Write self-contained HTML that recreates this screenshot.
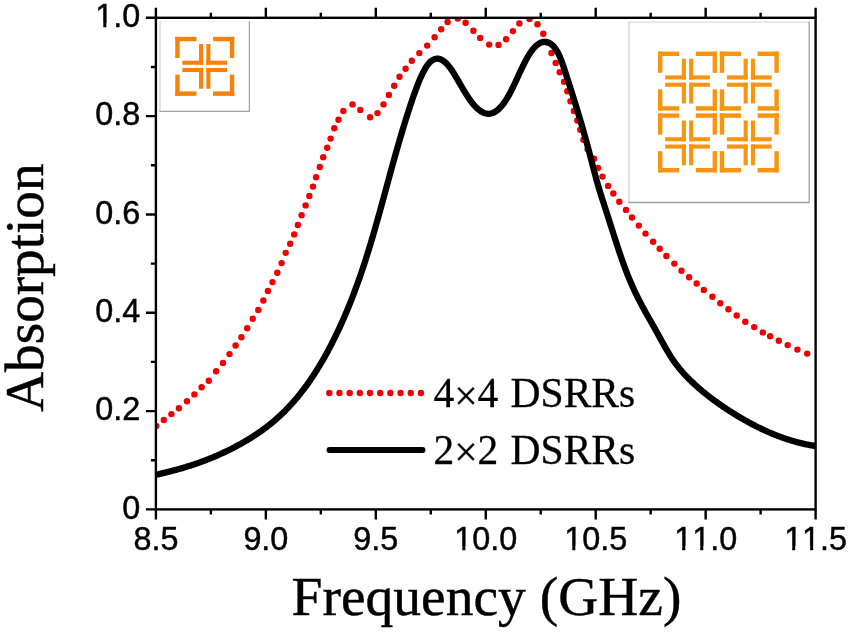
<!DOCTYPE html>
<html><head><meta charset="utf-8"><style>
html,body{margin:0;padding:0;background:#fff;}
svg{display:block;will-change:transform;}
.sans{font-family:"Liberation Sans",sans-serif;font-kerning:none;}
.serif{font-family:"Liberation Serif",serif;}
</style></head><body>
<svg width="850" height="633" viewBox="0 0 850 633">
<rect width="850" height="633" fill="#fff"/>
<!-- insets -->
<path d="M160 21.8 H249.4" stroke="#f1f1f1" stroke-width="1.2"/><path d="M160 21.3 V112" stroke="#d6d6d6" stroke-width="1.4"/><path d="M249.4 21.3 V112 M159.4 111.4 H250" stroke="#a2a2a2" stroke-width="1.3"/>
<g fill="#f8810c"><rect x="175.25" y="36.85" width="21.20" height="4.40"/><rect x="175.25" y="36.85" width="4.40" height="21.20"/><rect x="199.05" y="43.95" width="4.10" height="20.80"/><rect x="182.35" y="60.65" width="20.80" height="4.10"/><rect x="175.25" y="91.45" width="21.20" height="4.40"/><rect x="175.25" y="74.65" width="4.40" height="21.20"/><rect x="199.05" y="67.95" width="4.10" height="20.80"/><rect x="182.35" y="67.95" width="20.80" height="4.10"/><rect x="213.05" y="36.85" width="21.20" height="4.40"/><rect x="229.85" y="36.85" width="4.40" height="21.20"/><rect x="206.35" y="43.95" width="4.10" height="20.80"/><rect x="206.35" y="60.65" width="20.80" height="4.10"/><rect x="213.05" y="91.45" width="21.20" height="4.40"/><rect x="229.85" y="74.65" width="4.40" height="21.20"/><rect x="206.35" y="67.95" width="4.10" height="20.80"/><rect x="206.35" y="67.95" width="20.80" height="4.10"/></g>
<path d="M628.9 22.2 H809.2" stroke="#dedede" stroke-width="1.2"/><path d="M628.9 21.6 V203.1" stroke="#d6d6d6" stroke-width="1.4"/><path d="M809.2 21.6 V203.1 M628.3 202.5 H809.8" stroke="#a0a0a0" stroke-width="1.3"/>
<g fill="#f9940e"><rect x="658.00" y="51.60" width="21.20" height="4.40"/><rect x="658.00" y="51.60" width="4.40" height="21.20"/><rect x="681.80" y="58.70" width="4.10" height="20.80"/><rect x="665.10" y="75.40" width="20.80" height="4.10"/><rect x="658.00" y="106.20" width="21.20" height="4.40"/><rect x="658.00" y="89.40" width="4.40" height="21.20"/><rect x="681.80" y="82.70" width="4.10" height="20.80"/><rect x="665.10" y="82.70" width="20.80" height="4.10"/><rect x="695.80" y="51.60" width="21.20" height="4.40"/><rect x="712.60" y="51.60" width="4.40" height="21.20"/><rect x="689.10" y="58.70" width="4.10" height="20.80"/><rect x="689.10" y="75.40" width="20.80" height="4.10"/><rect x="695.80" y="106.20" width="21.20" height="4.40"/><rect x="712.60" y="89.40" width="4.40" height="21.20"/><rect x="689.10" y="82.70" width="4.10" height="20.80"/><rect x="689.10" y="82.70" width="20.80" height="4.10"/><rect x="658.00" y="113.40" width="21.20" height="4.40"/><rect x="658.00" y="113.40" width="4.40" height="21.20"/><rect x="681.80" y="120.50" width="4.10" height="20.80"/><rect x="665.10" y="137.20" width="20.80" height="4.10"/><rect x="658.00" y="168.00" width="21.20" height="4.40"/><rect x="658.00" y="151.20" width="4.40" height="21.20"/><rect x="681.80" y="144.50" width="4.10" height="20.80"/><rect x="665.10" y="144.50" width="20.80" height="4.10"/><rect x="695.80" y="113.40" width="21.20" height="4.40"/><rect x="712.60" y="113.40" width="4.40" height="21.20"/><rect x="689.10" y="120.50" width="4.10" height="20.80"/><rect x="689.10" y="137.20" width="20.80" height="4.10"/><rect x="695.80" y="168.00" width="21.20" height="4.40"/><rect x="712.60" y="151.20" width="4.40" height="21.20"/><rect x="689.10" y="144.50" width="4.10" height="20.80"/><rect x="689.10" y="144.50" width="20.80" height="4.10"/><rect x="719.80" y="51.60" width="21.20" height="4.40"/><rect x="719.80" y="51.60" width="4.40" height="21.20"/><rect x="743.60" y="58.70" width="4.10" height="20.80"/><rect x="726.90" y="75.40" width="20.80" height="4.10"/><rect x="719.80" y="106.20" width="21.20" height="4.40"/><rect x="719.80" y="89.40" width="4.40" height="21.20"/><rect x="743.60" y="82.70" width="4.10" height="20.80"/><rect x="726.90" y="82.70" width="20.80" height="4.10"/><rect x="757.60" y="51.60" width="21.20" height="4.40"/><rect x="774.40" y="51.60" width="4.40" height="21.20"/><rect x="750.90" y="58.70" width="4.10" height="20.80"/><rect x="750.90" y="75.40" width="20.80" height="4.10"/><rect x="757.60" y="106.20" width="21.20" height="4.40"/><rect x="774.40" y="89.40" width="4.40" height="21.20"/><rect x="750.90" y="82.70" width="4.10" height="20.80"/><rect x="750.90" y="82.70" width="20.80" height="4.10"/><rect x="719.80" y="113.40" width="21.20" height="4.40"/><rect x="719.80" y="113.40" width="4.40" height="21.20"/><rect x="743.60" y="120.50" width="4.10" height="20.80"/><rect x="726.90" y="137.20" width="20.80" height="4.10"/><rect x="719.80" y="168.00" width="21.20" height="4.40"/><rect x="719.80" y="151.20" width="4.40" height="21.20"/><rect x="743.60" y="144.50" width="4.10" height="20.80"/><rect x="726.90" y="144.50" width="20.80" height="4.10"/><rect x="757.60" y="113.40" width="21.20" height="4.40"/><rect x="774.40" y="113.40" width="4.40" height="21.20"/><rect x="750.90" y="120.50" width="4.10" height="20.80"/><rect x="750.90" y="137.20" width="20.80" height="4.10"/><rect x="757.60" y="168.00" width="21.20" height="4.40"/><rect x="774.40" y="151.20" width="4.40" height="21.20"/><rect x="750.90" y="144.50" width="4.10" height="20.80"/><rect x="750.90" y="144.50" width="20.80" height="4.10"/></g>
<!-- curves -->
<defs><clipPath id="pc"><rect x="155.9" y="17.8" width="659.70" height="491.60"/></clipPath></defs>
<g clip-path="url(#pc)">
<g fill="#f00000"><circle cx="156.2" cy="426.0" r="3.2"/><circle cx="163.8" cy="420.0" r="3.2"/><circle cx="171.4" cy="414.1" r="3.2"/><circle cx="178.9" cy="408.2" r="3.2"/><circle cx="187.0" cy="401.2" r="3.2"/><circle cx="194.4" cy="394.4" r="3.2"/><circle cx="201.6" cy="387.2" r="3.2"/><circle cx="208.8" cy="380.7" r="3.2"/><circle cx="216.1" cy="371.3" r="3.2"/><circle cx="223.0" cy="362.9" r="3.2"/><circle cx="229.5" cy="354.1" r="3.2"/><circle cx="235.6" cy="345.5" r="3.2"/><circle cx="241.4" cy="337.2" r="3.2"/><circle cx="247.2" cy="328.3" r="3.2"/><circle cx="252.8" cy="318.7" r="3.2"/><circle cx="258.3" cy="309.9" r="3.2"/><circle cx="263.4" cy="300.5" r="3.2"/><circle cx="267.9" cy="290.9" r="3.2"/><circle cx="272.5" cy="282.1" r="3.2"/><circle cx="277.3" cy="272.7" r="3.2"/><circle cx="281.6" cy="263.1" r="3.2"/><circle cx="285.7" cy="252.9" r="3.2"/><circle cx="290.2" cy="243.8" r="3.2"/><circle cx="294.2" cy="234.4" r="3.2"/><circle cx="297.9" cy="225.0" r="3.2"/><circle cx="301.6" cy="215.3" r="3.2"/><circle cx="305.6" cy="205.4" r="3.2"/><circle cx="309.3" cy="196.0" r="3.2"/><circle cx="313.0" cy="186.6" r="3.2"/><circle cx="316.1" cy="177.2" r="3.2"/><circle cx="319.8" cy="167.0" r="3.2"/><circle cx="323.2" cy="157.3" r="3.2"/><circle cx="327.2" cy="147.7" r="3.2"/><circle cx="330.6" cy="138.6" r="3.2"/><circle cx="334.3" cy="128.3" r="3.2"/><circle cx="338.5" cy="119.7" r="3.2"/><circle cx="343.4" cy="111.0" r="3.2"/><circle cx="352.5" cy="104.4" r="3.2"/><circle cx="360.3" cy="109.9" r="3.2"/><circle cx="370.1" cy="117.2" r="3.2"/><circle cx="377.5" cy="113.1" r="3.2"/><circle cx="383.5" cy="104.4" r="3.2"/><circle cx="388.9" cy="94.9" r="3.2"/><circle cx="394.2" cy="85.8" r="3.2"/><circle cx="399.5" cy="76.7" r="3.2"/><circle cx="405.6" cy="68.8" r="3.2"/><circle cx="411.8" cy="60.8" r="3.2"/><circle cx="419.3" cy="53.1" r="3.2"/><circle cx="427.2" cy="45.6" r="3.2"/><circle cx="434.6" cy="37.3" r="3.2"/><circle cx="441.2" cy="29.2" r="3.2"/><circle cx="447.6" cy="22.0" r="3.2"/><circle cx="457.8" cy="18.5" r="3.2"/><circle cx="465.6" cy="22.8" r="3.2"/><circle cx="473.4" cy="30.8" r="3.2"/><circle cx="480.2" cy="37.9" r="3.2"/><circle cx="489.2" cy="44.6" r="3.2"/><circle cx="498.5" cy="44.9" r="3.2"/><circle cx="506.1" cy="39.3" r="3.2"/><circle cx="512.9" cy="31.1" r="3.2"/><circle cx="519.4" cy="23.4" r="3.2"/><circle cx="529.5" cy="19.1" r="3.2"/><circle cx="537.5" cy="24.3" r="3.2"/><circle cx="543.3" cy="33.8" r="3.2"/><circle cx="547.6" cy="42.4" r="3.2"/><circle cx="551.5" cy="53.0" r="3.2"/><circle cx="555.7" cy="62.9" r="3.2"/><circle cx="559.7" cy="72.2" r="3.2"/><circle cx="564.1" cy="81.8" r="3.2"/><circle cx="567.3" cy="91.3" r="3.2"/><circle cx="570.5" cy="101.3" r="3.2"/><circle cx="573.9" cy="111.0" r="3.2"/><circle cx="577.3" cy="120.5" r="3.2"/><circle cx="580.3" cy="129.8" r="3.2"/><circle cx="583.4" cy="139.8" r="3.2"/><circle cx="587.6" cy="149.3" r="3.2"/><circle cx="594.0" cy="158.8" r="3.2"/><circle cx="598.0" cy="168.0" r="3.2"/><circle cx="602.5" cy="176.6" r="3.2"/><circle cx="608.1" cy="185.9" r="3.2"/><circle cx="613.3" cy="193.5" r="3.2"/><circle cx="619.3" cy="201.8" r="3.2"/><circle cx="626.0" cy="209.9" r="3.2"/><circle cx="632.0" cy="217.5" r="3.2"/><circle cx="638.8" cy="225.6" r="3.2"/><circle cx="645.5" cy="233.6" r="3.2"/><circle cx="653.1" cy="241.8" r="3.2"/><circle cx="659.7" cy="248.8" r="3.2"/><circle cx="666.4" cy="256.0" r="3.2"/><circle cx="674.3" cy="263.6" r="3.2"/><circle cx="681.5" cy="270.8" r="3.2"/><circle cx="689.1" cy="277.3" r="3.2"/><circle cx="696.7" cy="283.5" r="3.2"/><circle cx="703.8" cy="289.9" r="3.2"/><circle cx="712.4" cy="296.8" r="3.2"/><circle cx="720.3" cy="303.3" r="3.2"/><circle cx="728.4" cy="309.3" r="3.2"/><circle cx="736.7" cy="315.5" r="3.2"/><circle cx="745.3" cy="321.7" r="3.2"/><circle cx="754.2" cy="327.1" r="3.2"/><circle cx="762.8" cy="332.4" r="3.2"/><circle cx="770.1" cy="336.3" r="3.2"/><circle cx="778.8" cy="340.7" r="3.2"/><circle cx="787.7" cy="345.1" r="3.2"/><circle cx="797.4" cy="349.6" r="3.2"/><circle cx="807.2" cy="353.6" r="3.2"/></g>
<path d="M156.0 474.7 L157.0 474.5 L158.0 474.3 L159.0 474.1 L160.0 473.8 L161.0 473.6 L162.0 473.4 L163.0 473.1 L164.0 472.9 L165.0 472.7 L166.0 472.4 L167.0 472.2 L168.0 471.9 L169.0 471.7 L170.0 471.4 L171.0 471.2 L172.0 470.9 L173.0 470.6 L174.0 470.4 L175.0 470.1 L176.0 469.8 L177.0 469.6 L178.0 469.3 L179.0 469.0 L180.0 468.7 L181.0 468.4 L182.0 468.2 L183.0 467.9 L184.0 467.6 L185.0 467.3 L186.0 467.0 L187.0 466.6 L188.0 466.3 L189.0 466.0 L190.0 465.7 L191.0 465.4 L192.0 465.1 L193.0 464.7 L194.0 464.4 L195.0 464.1 L196.0 463.7 L197.0 463.4 L198.0 463.0 L199.0 462.7 L200.0 462.3 L201.0 461.9 L202.0 461.6 L203.0 461.2 L204.0 460.8 L205.0 460.5 L206.0 460.1 L207.0 459.7 L208.0 459.3 L209.0 458.9 L210.0 458.5 L211.0 458.1 L212.0 457.7 L213.0 457.3 L214.0 456.9 L215.0 456.4 L216.0 456.0 L217.0 455.6 L218.0 455.1 L219.0 454.7 L220.0 454.2 L221.0 453.8 L222.0 453.3 L223.0 452.9 L224.0 452.4 L225.0 451.9 L226.0 451.5 L227.0 451.0 L228.0 450.5 L229.0 450.0 L230.0 449.5 L231.0 449.0 L232.0 448.5 L233.0 448.0 L234.0 447.5 L235.0 446.9 L236.0 446.4 L237.0 445.9 L238.0 445.3 L239.0 444.8 L240.0 444.2 L241.0 443.7 L242.0 443.1 L243.0 442.5 L244.0 442.0 L245.0 441.4 L246.0 440.8 L247.0 440.2 L248.0 439.6 L249.0 439.0 L250.0 438.4 L251.0 437.8 L252.0 437.1 L253.0 436.5 L254.0 435.8 L255.0 435.2 L256.0 434.5 L257.0 433.9 L258.0 433.2 L259.0 432.5 L260.0 431.8 L261.0 431.1 L262.0 430.4 L263.0 429.7 L264.0 428.9 L265.0 428.2 L266.0 427.5 L267.0 426.7 L268.0 425.9 L269.0 425.1 L270.0 424.3 L271.0 423.5 L272.0 422.7 L273.0 421.9 L274.0 421.0 L275.0 420.2 L276.0 419.3 L277.0 418.4 L278.0 417.5 L279.0 416.6 L280.0 415.7 L281.0 414.7 L282.0 413.8 L283.0 412.8 L284.0 411.9 L285.0 410.9 L286.0 409.8 L287.0 408.8 L288.0 407.8 L289.0 406.7 L290.0 405.6 L291.0 404.6 L292.0 403.5 L293.0 402.3 L294.0 401.2 L295.0 400.0 L296.0 398.9 L297.0 397.7 L298.0 396.5 L299.0 395.2 L300.0 394.0 L301.0 392.7 L302.0 391.4 L303.0 390.1 L304.0 388.8 L305.0 387.5 L306.0 386.1 L307.0 384.8 L308.0 383.4 L309.0 381.9 L310.0 380.5 L311.0 379.0 L312.0 377.6 L313.0 376.0 L314.0 374.5 L315.0 373.0 L316.0 371.4 L317.0 369.8 L318.0 368.2 L319.0 366.6 L320.0 364.9 L321.0 363.2 L322.0 361.5 L323.0 359.8 L324.0 358.1 L325.0 356.3 L326.0 354.5 L327.0 352.7 L328.0 350.8 L329.0 348.9 L330.0 347.0 L331.0 345.1 L332.0 343.2 L333.0 341.2 L334.0 339.2 L335.0 337.2 L336.0 335.1 L337.0 333.0 L338.0 330.9 L339.0 328.8 L340.0 326.6 L341.0 324.4 L342.0 322.2 L343.0 320.0 L344.0 317.7 L345.0 315.4 L346.0 313.0 L347.0 310.7 L348.0 308.3 L349.0 305.8 L350.0 303.3 L351.0 300.8 L352.0 298.3 L353.0 295.7 L354.0 293.1 L355.0 290.4 L356.0 287.7 L357.0 285.0 L358.0 282.2 L359.0 279.4 L360.0 276.6 L361.0 273.7 L362.0 270.8 L363.0 267.8 L364.0 264.8 L365.0 261.7 L366.0 258.6 L367.0 255.4 L368.0 252.2 L369.0 249.0 L370.0 245.7 L371.0 242.4 L372.0 239.0 L373.0 235.6 L374.0 232.2 L375.0 228.7 L376.0 225.2 L377.0 221.7 L378.0 218.1 L379.0 214.6 L380.0 211.0 L381.0 207.3 L382.0 203.7 L383.0 200.1 L384.0 196.4 L385.0 192.7 L386.0 189.0 L387.0 185.4 L388.0 181.7 L389.0 178.0 L390.0 174.3 L391.0 170.7 L392.0 167.0 L393.0 163.4 L394.0 159.8 L395.0 156.2 L396.0 152.7 L397.0 149.1 L398.0 145.6 L399.0 142.2 L400.0 138.7 L401.0 135.4 L402.0 132.0 L403.0 128.7 L404.0 125.4 L405.0 122.1 L406.0 118.9 L407.0 115.7 L408.0 112.6 L409.0 109.5 L410.0 106.4 L411.0 103.4 L412.0 100.4 L413.0 97.5 L414.0 94.7 L415.0 91.9 L416.0 89.1 L417.0 86.5 L418.0 83.9 L419.0 81.4 L420.0 79.1 L421.0 76.8 L422.0 74.6 L423.0 72.6 L424.0 70.7 L425.0 68.9 L426.0 67.2 L427.0 65.7 L428.0 64.4 L429.0 63.2 L430.0 62.1 L431.0 61.2 L432.0 60.5 L433.0 59.8 L434.0 59.4 L435.0 59.0 L436.0 58.8 L437.0 58.7 L438.0 58.7 L439.0 58.9 L440.0 59.1 L441.0 59.5 L442.0 60.0 L443.0 60.6 L444.0 61.3 L445.0 62.2 L446.0 63.1 L447.0 64.1 L448.0 65.2 L449.0 66.4 L450.0 67.7 L451.0 69.1 L452.0 70.6 L453.0 72.1 L454.0 73.7 L455.0 75.3 L456.0 77.0 L457.0 78.7 L458.0 80.4 L459.0 82.1 L460.0 83.8 L461.0 85.5 L462.0 87.3 L463.0 89.0 L464.0 90.6 L465.0 92.3 L466.0 93.9 L467.0 95.5 L468.0 97.0 L469.0 98.5 L470.0 100.0 L471.0 101.3 L472.0 102.7 L473.0 103.9 L474.0 105.1 L475.0 106.2 L476.0 107.2 L477.0 108.2 L478.0 109.1 L479.0 109.9 L480.0 110.7 L481.0 111.4 L482.0 111.9 L483.0 112.5 L484.0 112.9 L485.0 113.2 L486.0 113.5 L487.0 113.7 L488.0 113.8 L489.0 113.8 L490.0 113.7 L491.0 113.5 L492.0 113.2 L493.0 112.9 L494.0 112.4 L495.0 111.9 L496.0 111.2 L497.0 110.5 L498.0 109.7 L499.0 108.8 L500.0 107.8 L501.0 106.7 L502.0 105.6 L503.0 104.3 L504.0 103.0 L505.0 101.5 L506.0 100.0 L507.0 98.4 L508.0 96.7 L509.0 94.9 L510.0 93.1 L511.0 91.2 L512.0 89.2 L513.0 87.1 L514.0 85.1 L515.0 83.0 L516.0 80.8 L517.0 78.7 L518.0 76.5 L519.0 74.3 L520.0 72.2 L521.0 70.1 L522.0 68.0 L523.0 65.9 L524.0 63.9 L525.0 61.9 L526.0 60.0 L527.0 58.2 L528.0 56.4 L529.0 54.8 L530.0 53.2 L531.0 51.7 L532.0 50.4 L533.0 49.1 L534.0 47.9 L535.0 46.8 L536.0 45.9 L537.0 45.0 L538.0 44.3 L539.0 43.6 L540.0 43.0 L541.0 42.6 L542.0 42.3 L543.0 42.0 L544.0 41.9 L545.0 41.9 L546.0 42.0 L547.0 42.2 L548.0 42.5 L549.0 42.9 L550.0 43.4 L551.0 44.1 L552.0 44.8 L553.0 45.8 L554.0 46.8 L555.0 48.1 L556.0 49.5 L557.0 51.1 L558.0 52.9 L559.0 54.9 L560.0 57.1 L561.0 59.6 L562.0 62.3 L563.0 65.1 L564.0 68.1 L565.0 71.2 L566.0 74.3 L567.0 77.4 L568.0 80.5 L569.0 83.6 L570.0 86.8 L571.0 89.9 L572.0 93.1 L573.0 96.3 L574.0 99.5 L575.0 102.7 L576.0 105.9 L577.0 109.2 L578.0 112.5 L579.0 115.8 L580.0 119.1 L581.0 122.5 L582.0 125.9 L583.0 129.4 L584.0 132.9 L585.0 136.5 L586.0 140.1 L587.0 143.7 L588.0 147.4 L589.0 151.2 L590.0 155.0 L591.0 158.9 L592.0 162.8 L593.0 166.7 L594.0 170.5 L595.0 174.3 L596.0 178.1 L597.0 181.7 L598.0 185.2 L599.0 188.5 L600.0 191.8 L601.0 195.0 L602.0 198.2 L603.0 201.3 L604.0 204.4 L605.0 207.5 L606.0 210.5 L607.0 213.6 L608.0 216.7 L609.0 219.9 L610.0 223.0 L611.0 226.2 L612.0 229.3 L613.0 232.4 L614.0 235.6 L615.0 238.7 L616.0 241.8 L617.0 244.8 L618.0 247.9 L619.0 250.9 L620.0 253.9 L621.0 256.8 L622.0 259.7 L623.0 262.5 L624.0 265.3 L625.0 268.0 L626.0 270.7 L627.0 273.3 L628.0 275.8 L629.0 278.2 L630.0 280.6 L631.0 283.0 L632.0 285.3 L633.0 287.5 L634.0 289.7 L635.0 291.8 L636.0 293.9 L637.0 295.9 L638.0 298.0 L639.0 299.9 L640.0 301.9 L641.0 303.8 L642.0 305.7 L643.0 307.5 L644.0 309.3 L645.0 311.2 L646.0 313.0 L647.0 314.7 L648.0 316.5 L649.0 318.3 L650.0 320.0 L651.0 321.8 L652.0 323.6 L653.0 325.3 L654.0 327.1 L655.0 328.9 L656.0 330.7 L657.0 332.5 L658.0 334.3 L659.0 336.1 L660.0 337.9 L661.0 339.7 L662.0 341.5 L663.0 343.3 L664.0 345.1 L665.0 346.9 L666.0 348.6 L667.0 350.3 L668.0 352.0 L669.0 353.7 L670.0 355.3 L671.0 356.9 L672.0 358.4 L673.0 359.9 L674.0 361.4 L675.0 362.8 L676.0 364.1 L677.0 365.4 L678.0 366.7 L679.0 368.0 L680.0 369.2 L681.0 370.4 L682.0 371.5 L683.0 372.7 L684.0 373.8 L685.0 374.9 L686.0 375.9 L687.0 377.0 L688.0 378.0 L689.0 379.0 L690.0 380.0 L691.0 380.9 L692.0 381.9 L693.0 382.8 L694.0 383.8 L695.0 384.7 L696.0 385.6 L697.0 386.5 L698.0 387.4 L699.0 388.3 L700.0 389.1 L701.0 390.0 L702.0 390.9 L703.0 391.7 L704.0 392.5 L705.0 393.3 L706.0 394.1 L707.0 394.9 L708.0 395.7 L709.0 396.5 L710.0 397.3 L711.0 398.0 L712.0 398.8 L713.0 399.5 L714.0 400.3 L715.0 401.0 L716.0 401.7 L717.0 402.4 L718.0 403.2 L719.0 403.9 L720.0 404.6 L721.0 405.2 L722.0 405.9 L723.0 406.6 L724.0 407.3 L725.0 407.9 L726.0 408.6 L727.0 409.3 L728.0 409.9 L729.0 410.6 L730.0 411.2 L731.0 411.8 L732.0 412.5 L733.0 413.1 L734.0 413.7 L735.0 414.4 L736.0 415.0 L737.0 415.6 L738.0 416.2 L739.0 416.8 L740.0 417.4 L741.0 418.0 L742.0 418.5 L743.0 419.1 L744.0 419.7 L745.0 420.3 L746.0 420.8 L747.0 421.4 L748.0 421.9 L749.0 422.5 L750.0 423.0 L751.0 423.6 L752.0 424.1 L753.0 424.6 L754.0 425.1 L755.0 425.6 L756.0 426.2 L757.0 426.7 L758.0 427.2 L759.0 427.7 L760.0 428.1 L761.0 428.6 L762.0 429.1 L763.0 429.6 L764.0 430.0 L765.0 430.5 L766.0 431.0 L767.0 431.4 L768.0 431.8 L769.0 432.3 L770.0 432.7 L771.0 433.1 L772.0 433.6 L773.0 434.0 L774.0 434.4 L775.0 434.8 L776.0 435.2 L777.0 435.6 L778.0 436.0 L779.0 436.3 L780.0 436.7 L781.0 437.1 L782.0 437.4 L783.0 437.8 L784.0 438.2 L785.0 438.5 L786.0 438.8 L787.0 439.2 L788.0 439.5 L789.0 439.8 L790.0 440.1 L791.0 440.4 L792.0 440.7 L793.0 441.0 L794.0 441.3 L795.0 441.6 L796.0 441.9 L797.0 442.2 L798.0 442.4 L799.0 442.7 L800.0 442.9 L801.0 443.2 L802.0 443.4 L803.0 443.6 L804.0 443.9 L805.0 444.1 L806.0 444.3 L807.0 444.5 L808.0 444.7 L809.0 444.9 L810.0 445.1 L811.0 445.3 L812.0 445.4 L813.0 445.6 L814.0 445.8 L815.0 445.9 L815.4 446.0" fill="none" stroke="#000" stroke-width="6.3" stroke-linejoin="round"/>
</g>
<!-- frame -->
<rect x="155.9" y="17.8" width="659.70" height="491.60" fill="none" stroke="#000" stroke-width="2.4"/>
<path d="M155.90 509.40 V519.40 M155.90 17.80 V7.80 M210.88 509.40 V514.40 M210.88 17.80 V12.80 M265.85 509.40 V519.40 M265.85 17.80 V7.80 M320.83 509.40 V514.40 M320.83 17.80 V12.80 M375.80 509.40 V519.40 M375.80 17.80 V7.80 M430.77 509.40 V514.40 M430.77 17.80 V12.80 M485.75 509.40 V519.40 M485.75 17.80 V7.80 M540.73 509.40 V514.40 M540.73 17.80 V12.80 M595.70 509.40 V519.40 M595.70 17.80 V7.80 M650.68 509.40 V514.40 M650.68 17.80 V12.80 M705.65 509.40 V519.40 M705.65 17.80 V7.80 M760.62 509.40 V514.40 M760.62 17.80 V12.80 M815.60 509.40 V519.40 M815.60 17.80 V7.80 M155.90 509.40 H145.90 M155.90 460.24 H150.90 M155.90 411.08 H145.90 M155.90 361.92 H150.90 M155.90 312.76 H145.90 M155.90 263.60 H150.90 M155.90 214.44 H145.90 M155.90 165.28 H150.90 M155.90 116.12 H145.90 M155.90 66.96 H150.90 M155.90 17.80 H145.90" stroke="#000" stroke-width="2.4" fill="none"/>
<g class="sans" font-size="33" fill="#000" stroke="#000" stroke-width="0.45"><g transform="translate(155.90 549.90) scale(0.980 1)"><text x="0" y="0" text-anchor="middle">8.5</text><g fill="#fff" stroke="none"></g></g><g transform="translate(265.85 549.90) scale(0.980 1)"><text x="0" y="0" text-anchor="middle">9.0</text><g fill="#fff" stroke="none"></g></g><g transform="translate(375.80 549.90) scale(0.980 1)"><text x="0" y="0" text-anchor="middle">9.5</text><g fill="#fff" stroke="none"></g></g><g transform="translate(485.75 549.90) scale(0.980 1)"><text x="0" y="0" text-anchor="middle">10.0</text><g fill="#fff" stroke="none"><rect x="-30.82" y="-3.8" width="6.90" height="5.2"/><rect x="-20.79" y="-3.8" width="6.72" height="5.2"/></g></g><g transform="translate(595.70 549.90) scale(0.980 1)"><text x="0" y="0" text-anchor="middle">10.5</text><g fill="#fff" stroke="none"><rect x="-30.82" y="-3.8" width="6.90" height="5.2"/><rect x="-20.79" y="-3.8" width="6.72" height="5.2"/></g></g><g transform="translate(705.65 549.90) scale(0.980 1)"><text x="0" y="0" text-anchor="middle">11.0</text><g fill="#fff" stroke="none"><rect x="-30.82" y="-3.8" width="6.90" height="5.2"/><rect x="-20.79" y="-3.8" width="6.72" height="5.2"/><rect x="-12.47" y="-3.8" width="6.90" height="5.2"/><rect x="-2.43" y="-3.8" width="6.72" height="5.2"/></g></g><g transform="translate(815.60 549.90) scale(0.980 1)"><text x="0" y="0" text-anchor="middle">11.5</text><g fill="#fff" stroke="none"><rect x="-30.82" y="-3.8" width="6.90" height="5.2"/><rect x="-20.79" y="-3.8" width="6.72" height="5.2"/><rect x="-12.47" y="-3.8" width="6.90" height="5.2"/><rect x="-2.43" y="-3.8" width="6.72" height="5.2"/></g></g><g transform="translate(140.20 518.70) scale(0.980 1)"><text x="0" y="0" text-anchor="end">0</text><g fill="#fff" stroke="none"></g></g><g transform="translate(140.20 420.38) scale(0.980 1)"><text x="0" y="0" text-anchor="end">0.2</text><g fill="#fff" stroke="none"></g></g><g transform="translate(140.20 322.06) scale(0.980 1)"><text x="0" y="0" text-anchor="end">0.4</text><g fill="#fff" stroke="none"></g></g><g transform="translate(140.20 223.74) scale(0.980 1)"><text x="0" y="0" text-anchor="end">0.6</text><g fill="#fff" stroke="none"></g></g><g transform="translate(140.20 125.42) scale(0.980 1)"><text x="0" y="0" text-anchor="end">0.8</text><g fill="#fff" stroke="none"></g></g><g transform="translate(140.20 27.10) scale(0.980 1)"><text x="0" y="0" text-anchor="end">1.0</text><g fill="#fff" stroke="none"><rect x="-44.59" y="-3.8" width="6.90" height="5.2"/><rect x="-34.55" y="-3.8" width="6.72" height="5.2"/></g></g></g>
<text class="serif" x="291.6" y="614.8" font-size="55.5" fill="#000" stroke="#000" stroke-width="0.45">Frequency (GHz)</text>
<text class="serif" font-size="55.2" fill="#000" stroke="#000" stroke-width="0.45" transform="translate(42.5 411.8) rotate(-90)">Absorption</text>
<!-- legend -->
<g fill="#f00000"><circle cx="329.30" cy="393" r="3.2"/><circle cx="339.48" cy="393" r="3.2"/><circle cx="349.66" cy="393" r="3.2"/><circle cx="359.84" cy="393" r="3.2"/><circle cx="370.02" cy="393" r="3.2"/><circle cx="380.20" cy="393" r="3.2"/><circle cx="390.38" cy="393" r="3.2"/><circle cx="400.56" cy="393" r="3.2"/><circle cx="410.74" cy="393" r="3.2"/><circle cx="420.92" cy="393" r="3.2"/></g>
<path d="M329.5 449.9 H422.5" fill="none" stroke="#000" stroke-width="6" stroke-linecap="round"/>
<g class="serif" font-size="41.5" fill="#000" stroke="#000" stroke-width="0.3">
<text x="433.4" y="406.5">4<tspan dy="3">×</tspan><tspan dy="-3">4</tspan><tspan x="510.6">DSRRs</tspan></text>
<text x="433.4" y="463.6">2<tspan dy="2.6">×</tspan><tspan dy="-2.6">2</tspan><tspan x="510.6">DSRRs</tspan></text>
</g>
</svg>
</body></html>
